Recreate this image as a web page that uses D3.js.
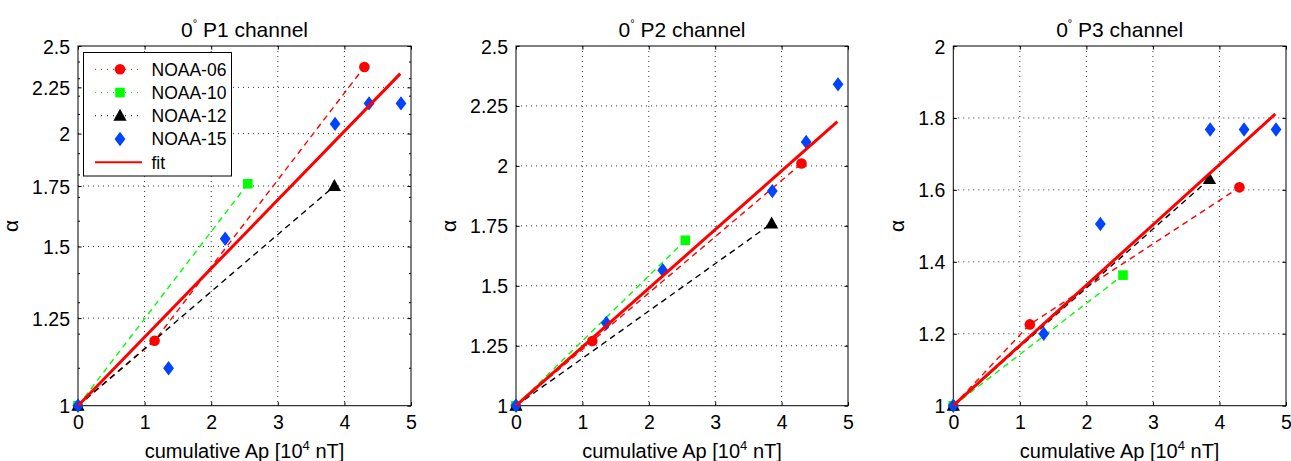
<!DOCTYPE html>
<html><head><meta charset="utf-8">
<script src="https://cdn.jsdelivr.net/npm/d3@7"></script>
<style>
body{margin:0;background:#fff}
text{font-family:"Liberation Sans", Arial, Helvetica, sans-serif;fill:#000}
</style>
</head><body><svg id="c" width="1291" height="461"></svg>
<script>
// ---------- data ----------
const xTicks = [0, 1, 2, 3, 4, 5];
const yTicksP1 = [1, 1.25, 1.5, 1.75, 2, 2.25, 2.5];
const yTicksP2 = [1, 1.25, 1.5, 1.75, 2, 2.25, 2.5];
const yTicksP3 = [1, 1.2, 1.4, 1.6, 1.8, 2];
const seriesNames = ["NOAA-06", "NOAA-10", "NOAA-12", "NOAA-15"];
const panelTitles = ["P1", "P2", "P3"];

// cumulative Ap [10^4 nT]
const apNOAA06 = [0, 1.15, 4.30];
const apNOAA10 = [0, 2.55];
const apNOAA12 = [0, 3.85];
const apNOAA15 = [0, 1.36, 2.21, 3.86, 4.37, 4.85];
const apFit = [0, 4.84];

// alpha, P1 channel
const p1NOAA06 = [1, 1.18, 2.37];
const p1NOAA10 = [1, 1.76];
const p1NOAA12 = [1, 1.75];
const p1NOAA15 = [1, 1.10, 1.53, 2.05, 2.16, 2.16];
const p1Fit = [1, 2.33];

// alpha, P2 channel
const p2NOAA06 = [1, 1.27, 2.01];
const p2NOAA10 = [1, 1.69];
const p2NOAA12 = [1, 1.76];
const p2NOAA15 = [1, 1.345, 1.565, 1.895, 2.10, 2.34];
const p2Fit = [1, 2.185];

// alpha, P3 channel
const p3NOAA06 = [1, 1.226, 1.607];
const p3NOAA10 = [1, 1.363];
const p3NOAA12 = [1, 1.63];
const p3NOAA15 = [1, 1.20, 1.505, 1.768, 1.768, 1.768];
const p3Fit = [1, 1.811];

// ---------- layout ----------
const svg = d3.select("#c");
const TOP = 46, BOTTOM = 405.7;
const FONT = '"Liberation Sans", Arial, Helvetica, sans-serif';
const colors = {"NOAA-06": "#ff0000", "NOAA-10": "#00ff00", "NOAA-12": "#000000", "NOAA-15": "#0044ff"};
const zip = (xs, ys) => xs.map((x, i) => [x, ys[i]]);

const panels = [
  {left: 78, right: 411, log: true, yDomain: [1, 2.5], yTicks: yTicksP1, title: panelTitles[0],
   series: [zip(apNOAA06, p1NOAA06), zip(apNOAA10, p1NOAA10), zip(apNOAA12, p1NOAA12), zip(apNOAA15, p1NOAA15)],
   fit: zip(apFit, p1Fit), legend: true},
  {left: 516, right: 848, log: false, yDomain: [1, 2.5], yTicks: yTicksP2, title: panelTitles[1],
   series: [zip(apNOAA06, p2NOAA06), zip(apNOAA10, p2NOAA10), zip(apNOAA12, p2NOAA12), zip(apNOAA15, p2NOAA15)],
   fit: zip(apFit, p2Fit)},
  {left: 953.3, right: 1286, log: false, yDomain: [1, 2], yTicks: yTicksP3, title: panelTitles[2],
   series: [zip(apNOAA06, p3NOAA06), zip(apNOAA10, p3NOAA10), zip(apNOAA12, p3NOAA12), zip(apNOAA15, p3NOAA15)],
   fit: zip(apFit, p3Fit)}
];

function markerPath(name) {
  if (name === "NOAA-06") return d3.symbol(d3.symbolCircle, Math.PI * 5.3 * 5.3)();
  if (name === "NOAA-10") return "M-4.8,-4.8H4.8V4.8H-4.8Z";
  if (name === "NOAA-12") return "M0,-7L6.6,5L-6.6,5Z";
  return "M0,-7.2L5.4,0L0,7.2L-5.4,0Z";
}

panels.forEach(p => {
  const x = d3.scaleLinear().domain([0, 5]).range([p.left, p.right]);
  const y = (p.log ? d3.scaleLog() : d3.scaleLinear()).domain(p.yDomain).range([BOTTOM, TOP]);
  const g = svg.append("g");

  // grid
  const grid = g.append("g").attr("stroke", "#333").attr("stroke-width", 1).attr("stroke-dasharray", "1,4");
  xTicks.slice(1, -1).forEach(t => grid.append("line").attr("x1", x(t)).attr("x2", x(t)).attr("y1", TOP).attr("y2", BOTTOM));
  p.yTicks.slice(1, -1).forEach(t => grid.append("line").attr("x1", p.left).attr("x2", p.right).attr("y1", y(t)).attr("y2", y(t)));

  // axes
  const fmt = d => String(d);
  const styleAxis = sel => {
    sel.attr("font-size", null).attr("font-family", null);
    sel.select(".domain").remove();
    sel.selectAll("line").attr("stroke", "#000");
    sel.selectAll("text").style("font-size", "19.5px").style("font-family", FONT).attr("fill", "#000");
  };
  g.append("g").attr("transform", `translate(0,${BOTTOM})`)
    .call(d3.axisBottom(x).tickValues(xTicks).tickFormat(fmt).tickSize(-3.6).tickPadding(9)).call(styleAxis);
  g.append("g").attr("transform", `translate(0,${TOP})`)
    .call(d3.axisTop(x).tickValues(xTicks).tickFormat("").tickSize(-3.6)).call(styleAxis);
  const yAx = g.append("g").attr("transform", `translate(${p.left},0)`)
    .call(d3.axisLeft(y).tickValues(p.yTicks).tickFormat(fmt).tickSize(-3.6).tickPadding(8)).call(styleAxis);
  g.append("g").attr("transform", `translate(${p.right},0)`)
    .call(d3.axisRight(y).tickValues(p.yTicks).tickFormat("").tickSize(-3.6)).call(styleAxis);
  if (p.log) {
    const minor = d3.range(1.1, 2.45, 0.1).filter(v => !p.yTicks.some(t => Math.abs(t - v) < 1e-6));
    const mg = g.append("g").attr("stroke", "#000");
    minor.forEach(v => {
      mg.append("line").attr("x1", p.left).attr("x2", p.left + 2).attr("y1", y(v)).attr("y2", y(v));
      mg.append("line").attr("x1", p.right).attr("x2", p.right - 2).attr("y1", y(v)).attr("y2", y(v));
    });
  }
  yAx.selectAll("text").attr("dy", "0.36em");

  // box
  g.append("rect").attr("x", p.left).attr("y", TOP).attr("width", p.right - p.left).attr("height", BOTTOM - TOP)
    .attr("fill", "none").attr("stroke", "#000").attr("stroke-width", 1);

  // dashed per-satellite lines
  const line = d3.line().x(d => x(d[0])).y(d => y(d[1]));
  p.series.forEach((s, i) => {
    const name = seriesNames[i];
    if (name === "NOAA-15") return;
    g.append("path").attr("d", line(s)).attr("fill", "none").attr("stroke", colors[name])
      .attr("stroke-width", 1.4).attr("stroke-dasharray", "6,4.5");
  });
  // markers
  p.series.forEach((s, i) => {
    const name = seriesNames[i];
    g.append("g").selectAll("path").data(s).join("path")
      .attr("d", markerPath(name)).attr("transform", d => `translate(${x(d[0])},${y(d[1])})`)
      .attr("fill", colors[name]);
  });
  // fit
  g.append("path").attr("d", line(p.fit)).attr("fill", "none").attr("stroke", "#ff0000").attr("stroke-width", 3);

  // title
  const cx = (p.left + p.right) / 2;
  const t = g.append("text").attr("x", cx).attr("y", 37).attr("text-anchor", "middle").style("font-size", "21px");
  t.append("tspan").text("0");
  t.append("tspan").style("font-size", "11px").attr("dy", -10).text("°");
  t.append("tspan").attr("dy", 10).text(" " + p.title + " channel");

  // x label
  const xl = g.append("text").attr("x", cx).attr("y", 458).attr("text-anchor", "middle").style("font-size", "20px");
  xl.append("tspan").text("cumulative Ap [10");
  xl.append("tspan").style("font-size", "13px").attr("dy", -8).text("4");
  xl.append("tspan").attr("dy", 8).text(" nT]");

  // y label
  const bb = yAx.node().getBBox();
  const ly = (TOP + BOTTOM) / 2;
  const lx = p.left + bb.x - 14;
  g.append("text").attr("transform", `translate(${lx},${ly}) rotate(-90)`).attr("text-anchor", "middle")
    .style("font-size", "21px").text("α");

  // legend
  if (p.legend) {
    const lg = g.append("g");
    lg.append("rect").attr("x", 83.5).attr("y", 52.5).attr("width", 148).attr("height", 123.5)
      .attr("fill", "#fff").attr("stroke", "#000").attr("stroke-width", 1);
    const entries = seriesNames.concat(["fit"]);
    entries.forEach((name, i) => {
      const ry = 69.3 + i * 23.25;
      if (name === "fit") {
        lg.append("line").attr("x1", 95).attr("x2", 142).attr("y1", ry).attr("y2", ry)
          .attr("stroke", "#ff0000").attr("stroke-width", 2);
      } else {
        if (name !== "NOAA-15") {
          lg.append("line").attr("x1", 95).attr("x2", 142).attr("y1", ry).attr("y2", ry)
            .attr("stroke", colors[name]).attr("stroke-width", 1).attr("stroke-dasharray", "1,5");
        }
        lg.append("path").attr("d", markerPath(name)).attr("transform", `translate(120,${ry})`).attr("fill", colors[name]);
      }
      lg.append("text").attr("x", 151.5).attr("y", ry).attr("dy", "0.36em").style("font-size", "17.5px").text(name);
    });
  }
});
</script>
</body></html>
